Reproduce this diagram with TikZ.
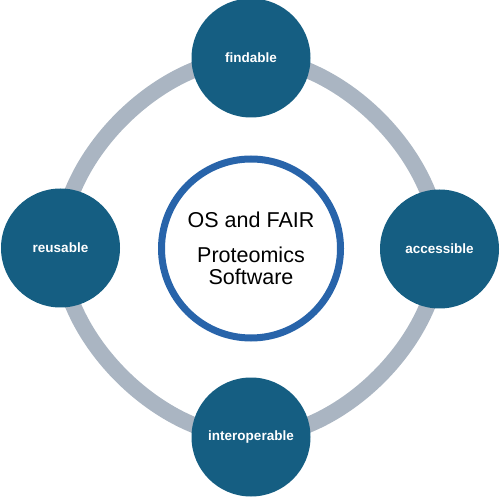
\documentclass[tikz,border=0pt]{standalone}
\usepackage{fontspec}
\setmainfont{Liberation Sans}
\usetikzlibrary{backgrounds}
\definecolor{fairblue}{RGB}{21,94,130}
\definecolor{ringgray}{RGB}{170,181,194}
\definecolor{coreblue}{RGB}{40,100,170}

\begin{document}
\begin{tikzpicture}[x=1pt,y=1pt,
  fair/.style={circle,fill=fairblue,minimum size=119pt,inner sep=0pt,text=white,font=\bfseries\fontsize{13.5}{16}\selectfont},
  core/.style={circle,draw=coreblue,line width=7pt,fill=white,minimum size=179pt,inner sep=0pt,align=center,font=\fontsize{21.5}{22}\selectfont},
  ring/.style={draw=ringgray,line width=16pt,bend left=45,looseness=0.86}]
\useasboundingbox (0,0) rectangle (500,498);

\node[core] (core) at (251,249.5) {OS and FAIR\\[13pt]Proteomics\\Software};
\node[fair] (F) at (251,440) {findable};
\node[fair] (A) at (439.5,249) {accessible};
\node[fair] (I) at (251,61) {interoperable};
\node[fair] (R) at (60.5,250) {reusable};

\begin{pgfonlayer}{background}
\draw[ring] (F.center) to (A.center);
\draw[ring] (A.center) to (I.center);
\draw[ring] (I.center) to (R.center);
\draw[ring] (R.center) to (F.center);
\end{pgfonlayer}

\end{tikzpicture}
\end{document}
